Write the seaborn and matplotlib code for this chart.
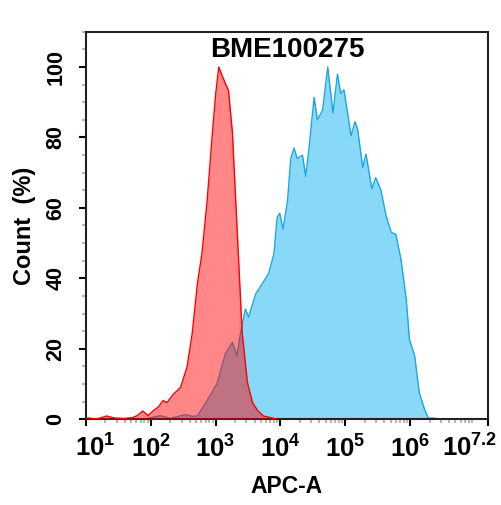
import numpy as np
import matplotlib.pyplot as plt
import seaborn as sns
from matplotlib.ticker import FixedLocator, LogLocator, MultipleLocator, NullFormatter

# ---------------- DATA ----------------
# red (isotype / control) histogram: log10(APC-A) and count (%)
red_log = [1.0, 1.2, 1.32, 1.45, 1.6, 1.73, 1.79, 1.88, 1.96, 2.04, 2.12, 2.19, 2.25,
           2.35, 2.46, 2.56, 2.64, 2.72, 2.79, 2.87, 2.95, 3.0, 3.05, 3.10, 3.20,
           3.26, 3.31, 3.36, 3.41, 3.49, 3.57, 3.65, 3.74, 3.9, 3.95]
red_cnt = [0.0, 0.2, 0.9, 0.3, 0.2, 0.5, 1.0, 2.3, 1.0, 2.4, 3.5, 5.3, 4.7,
           7.1, 9.0, 14.8, 24.3, 38.5, 47.0, 62.0, 81.0, 92.0, 100.0, 97.6, 93.3,
           81.4, 62.5, 43.6, 24.7, 10.5, 4.7, 2.4, 0.9, 0.2, 0.0]

# blue (BME100275 stained) histogram
blue_log = [1.03, 1.1, 1.2, 1.9, 2.15, 2.3, 2.53, 2.65, 2.72, 2.87, 3.02, 3.15,
            3.26, 3.33, 3.38, 3.46, 3.51, 3.62, 3.69, 3.82, 3.90, 3.95, 3.99,
            4.04, 4.11, 4.16, 4.21, 4.26, 4.34, 4.39, 4.44, 4.52, 4.57, 4.65,
            4.73, 4.81, 4.88, 4.93, 4.98, 5.09, 5.15, 5.19, 5.27, 5.32, 5.41,
            5.47, 5.55, 5.63, 5.71, 5.78, 5.86, 5.94, 5.99, 6.07, 6.14, 6.22,
            6.28, 6.38, 6.42]
blue_cnt = [0.5, 0.2, 0.0, 0.0, 1.0, 0.2, 1.3, 0.8, 0.9, 5.3, 10.0, 18.5,
            21.8, 18.0, 24.0, 31.3, 29.0, 35.6, 37.6, 41.4, 47.0, 57.3, 58.5,
            54.0, 62.0, 74.0, 77.0, 74.0, 75.0, 69.0, 76.7, 91.4, 85.0, 87.7,
            100.0, 87.0, 98.0, 92.5, 93.5, 80.5, 84.5, 82.4, 71.5, 75.3, 65.4,
            68.6, 65.0, 57.7, 53.0, 52.5, 45.3, 34.0, 22.6, 18.0, 7.6, 2.9,
            0.3, 0.3, 0.0]

x_ticks_exp = [1, 2, 3, 4, 5, 6, 7.2]
x_tick_labels = [r"$\mathbf{10^{1}}$", r"$\mathbf{10^{2}}$", r"$\mathbf{10^{3}}$",
                 r"$\mathbf{10^{4}}$", r"$\mathbf{10^{5}}$", r"$\mathbf{10^{6}}$",
                 r"$\mathbf{10^{7.2}}$"]
y_ticks = [0, 20, 40, 60, 80, 100]

red_df = {"x": 10 ** np.array(red_log), "y": red_cnt}
blue_df = {"x": 10 ** np.array(blue_log), "y": blue_cnt}

# ---------------- STYLE ----------------
sns.set_style("ticks")
plt.rcParams["font.family"] = ["Liberation Sans", "DejaVu Sans"]
plt.rcParams["mathtext.fontset"] = "custom"
plt.rcParams["mathtext.bf"] = "Liberation Sans:bold"
plt.rcParams["mathtext.rm"] = "Liberation Sans"
for key in ["text.color", "axes.labelcolor", "xtick.color", "ytick.color"]:
    plt.rcParams[key] = "black"

fig = plt.figure(figsize=(5.02, 5.05), dpi=100)
ax = fig.add_axes([0.171, 0.170, 0.801, 0.767])

# ---------------- PLOT ----------------
ax.fill_between(blue_df["x"], blue_df["y"], color="#87D9F7", lw=0, zorder=1)
sns.lineplot(x=blue_df["x"], y=blue_df["y"], color="#1AA7E2", lw=1.0, ax=ax,
             estimator=None, sort=False, zorder=2)
ax.fill_between(red_df["x"], red_df["y"], color="#FF0000", alpha=0.47, lw=0, zorder=3)
sns.lineplot(x=red_df["x"], y=red_df["y"], color="#FF0000", lw=1.0, ax=ax,
             estimator=None, sort=False, zorder=4)

ax.set_xscale("log")
ax.set_xlim(10 ** 1, 10 ** 7.2)
ax.set_ylim(0, 110)

# first and last labels are placed by hand, nudged inward like the original export
tick_pos = [10 ** e for e in x_ticks_exp]
ax.xaxis.set_major_locator(FixedLocator(tick_pos))
ax.set_xticklabels([""] + x_tick_labels[1:-1] + [""], fontsize=18.5)
ax.xaxis.set_minor_locator(LogLocator(base=10, subs=np.arange(2, 10), numticks=50))
ax.xaxis.set_minor_formatter(NullFormatter())
for pos, lab, dx in [(tick_pos[0], x_tick_labels[0], 7),
                     (tick_pos[-1], x_tick_labels[-1], -13)]:
    ax.annotate(lab, xy=(pos, 0), xycoords=("data", "axes fraction"),
                xytext=(dx, -11), textcoords="offset points",
                ha="center", va="top", fontsize=18.5, annotation_clip=False)

ax.set_yticks(y_ticks)
ax.set_yticklabels([str(v) for v in y_ticks], fontsize=15.5, fontweight="bold",
                   rotation=90, va="center")
ax.yaxis.set_minor_locator(MultipleLocator(5))

ax.tick_params(which="major", direction="out", length=5, width=1.5, color="black")
ax.tick_params(axis="x", which="major", pad=7)
ax.tick_params(axis="y", which="major", pad=9)
ax.tick_params(which="minor", direction="out", length=3, width=1.2, color="#AAAAAA")
for sp in ax.spines.values():
    sp.set_linewidth(1.5)
    sp.set_color("#222222")

ax.text(0.5, 0.953, "BME100275", transform=ax.transAxes, ha="center", va="center",
        fontsize=20, fontweight="bold")
ax.set_xlabel("APC-A", fontsize=16.5, fontweight="bold")
ax.set_ylabel("Count  (%)", fontsize=17, fontweight="bold")
ax.xaxis.set_label_coords(0.5, -0.145)
ax.yaxis.set_label_coords(-0.125, 0.5)

fig.savefig("out.png", dpi=100)
